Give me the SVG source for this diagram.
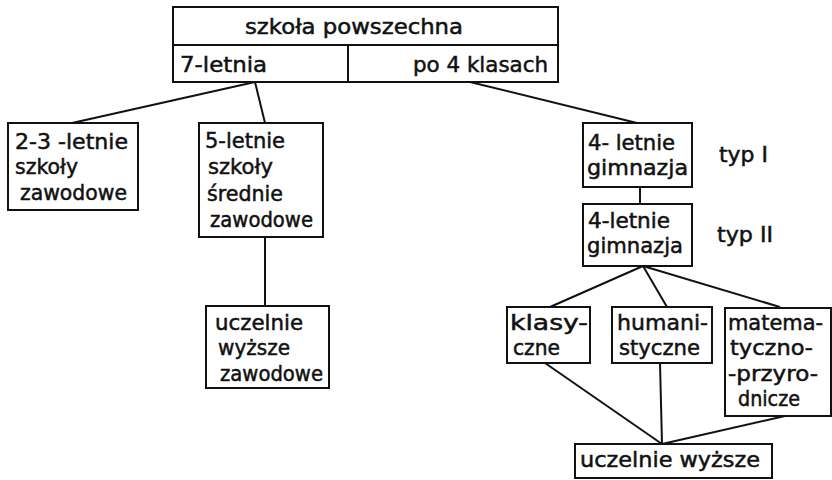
<svg xmlns="http://www.w3.org/2000/svg" width="832" height="480" viewBox="0 0 832 480">
<style>
.b{fill:#fff;stroke:#111;stroke-width:2}
.c{fill:none;stroke:#111;stroke-width:2}
text{font-family:"DejaVu Sans","Liberation Sans",sans-serif;font-size:21px;fill:#111;stroke:#111;stroke-width:0.5}
</style>
<rect width="832" height="480" fill="#fff"/>
<g id="connectors" class="c">
<path d="M255 82 L72 123"/>
<path d="M255 82 L265 123"/>
<path d="M470 82 L637 123"/>
<path d="M265 237 L265 306"/>
<path d="M640 187 L640 204"/>
<path d="M643 266 L550 307"/>
<path d="M643 266 L667 307"/>
<path d="M643 266 L780 307"/>
<path d="M545 363 L662 444"/>
<path d="M660 363 L662 444"/>
<path d="M785 416 L662 444"/>
</g>
<g id="szkola">
<rect class="b" x="173" y="7" width="385" height="75"/>
<path class="c" d="M173 45 H558 M348 45 V82"/>
<text x="245" y="34" textLength="218" lengthAdjust="spacingAndGlyphs">szkoła powszechna</text>
<text x="180" y="72" textLength="87" lengthAdjust="spacingAndGlyphs">7-letnia</text>
<text x="413" y="72" textLength="135" lengthAdjust="spacingAndGlyphs">po 4 klasach</text>
</g>
<g id="zawodowe23">
<rect class="b" x="8" y="123" width="130" height="87"/>
<text x="15" y="149" textLength="113" lengthAdjust="spacingAndGlyphs">2-3 -letnie</text>
<text x="15" y="174" textLength="63" lengthAdjust="spacingAndGlyphs">szkoły</text>
<text x="20" y="200" textLength="107" lengthAdjust="spacingAndGlyphs">zawodowe</text>
</g>
<g id="srednie5">
<rect class="b" x="199" y="123" width="124" height="114"/>
<text x="205" y="148" textLength="80" lengthAdjust="spacingAndGlyphs">5-letnie</text>
<text x="208" y="174" textLength="65" lengthAdjust="spacingAndGlyphs">szkoły</text>
<text x="207" y="201" textLength="76" lengthAdjust="spacingAndGlyphs">średnie</text>
<text x="210" y="227" textLength="103" lengthAdjust="spacingAndGlyphs">zawodowe</text>
</g>
<g id="uczelnieZawodowe">
<rect class="b" x="206" y="306" width="123" height="82"/>
<text x="215" y="330" textLength="88" lengthAdjust="spacingAndGlyphs">uczelnie</text>
<text x="218" y="355" textLength="72" lengthAdjust="spacingAndGlyphs">wyższe</text>
<text x="220" y="381" textLength="103" lengthAdjust="spacingAndGlyphs">zawodowe</text>
</g>
<g id="gimnazjaI">
<rect class="b" x="583" y="123" width="109" height="64"/>
<text x="588" y="150" textLength="87" lengthAdjust="spacingAndGlyphs">4- letnie</text>
<text x="587" y="175" textLength="101" lengthAdjust="spacingAndGlyphs">gimnazja</text>
<text x="719" y="162" textLength="49" lengthAdjust="spacingAndGlyphs">typ I</text>
</g>
<g id="gimnazjaII">
<rect class="b" x="583" y="204" width="109" height="62"/>
<text x="588" y="228" textLength="82" lengthAdjust="spacingAndGlyphs">4-letnie</text>
<text x="587" y="253" textLength="96" lengthAdjust="spacingAndGlyphs">gimnazja</text>
<text x="717" y="242" textLength="56" lengthAdjust="spacingAndGlyphs">typ II</text>
</g>
<g id="klasyczne">
<rect class="b" x="507" y="307" width="83" height="56"/>
<text x="510" y="330" textLength="78" lengthAdjust="spacingAndGlyphs">klasy-</text>
<text x="513" y="355" textLength="47" lengthAdjust="spacingAndGlyphs">czne</text>
</g>
<g id="humanistyczne">
<rect class="b" x="612" y="307" width="100" height="56"/>
<text x="617" y="330" textLength="91" lengthAdjust="spacingAndGlyphs">humani-</text>
<text x="619" y="355" textLength="81" lengthAdjust="spacingAndGlyphs">styczne</text>
</g>
<g id="matematyczne">
<rect class="b" x="725" y="308" width="106" height="108"/>
<text x="728" y="330" textLength="95" lengthAdjust="spacingAndGlyphs">matema-</text>
<text x="730" y="355" textLength="83" lengthAdjust="spacingAndGlyphs">tyczno-</text>
<text x="728" y="381" textLength="90" lengthAdjust="spacingAndGlyphs">-przyro-</text>
<text x="738" y="406" textLength="62" lengthAdjust="spacingAndGlyphs">dnicze</text>
</g>
<g id="uczelnieWyzsze">
<rect class="b" x="575" y="444" width="197" height="34"/>
<text x="580" y="467" textLength="180" lengthAdjust="spacingAndGlyphs">uczelnie wyższe</text>
</g>
</svg>
